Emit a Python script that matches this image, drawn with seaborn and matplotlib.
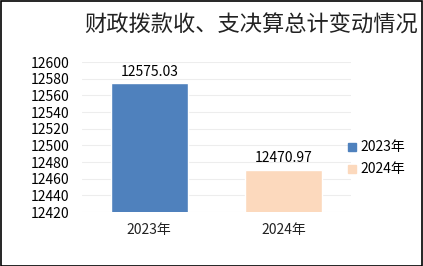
import matplotlib
matplotlib.use("Agg")
import matplotlib.pyplot as plt
import seaborn as sns
import pandas as pd
from matplotlib.patches import Rectangle

categories = ["2023年", "2024年"]
values = [12575.03, 12470.97]
colors = ["#4F81BD", "#FCD9BD"]
title = "财政拨款收、支决算总计变动情况"

sns.set_theme(style="white")
plt.rcParams['font.family'] = ['Noto Sans CJK SC', 'DejaVu Sans']

df = pd.DataFrame({"cat": categories, "val": values})

fig = plt.figure(figsize=(4.23, 2.66), dpi=100)
W, H = 423, 266
ax = fig.add_axes([82 / W, 1 - 212 / H, (351 - 82) / W, (212 - 62) / H])

sns.barplot(data=df, x="cat", y="val", hue="cat", palette=colors,
            width=0.57, ax=ax, legend=False, saturation=1)

ax.set_ylim(12420, 12600)
ax.set_yticks(range(12420, 12601, 20))
ax.set_xlim(-0.5, 1.5)
ax.yaxis.grid(True, color="#EDEDED", linewidth=0.8)
ax.set_axisbelow(True)
for s in ax.spines.values():
    s.set_visible(False)
ax.set_xlabel("")
ax.set_ylabel("")
ax.tick_params(axis="y", labelsize=10, pad=9, length=0, colors="black")
ax.tick_params(axis="x", labelsize=10, pad=8, length=0, colors="#222222")

for i, v in enumerate(values):
    ax.text(i, v + 5, f"{v:.2f}", ha="center", va="bottom", fontsize=10, color="black")

fig.text(251 / W, 1 - 25 / H, title, ha="center", va="center", fontsize=16, color="#222222")

# legend
for j, (c, lab) in enumerate(zip(colors, categories)):
    y = 1 - (147 + 22 * j) / H
    fig.patches.append(Rectangle((348 / W, y - 4 / H), 8 / W, 8 / H,
                                 transform=fig.transFigure, color=c))
    fig.text(360 / W, y, lab, ha="left", va="center", fontsize=10, color="black")

fig.patches.append(Rectangle((0.5 / W, 0.5 / H), 1 - 1.5 / W, 1 - 1.5 / H, transform=fig.transFigure,
                             fill=False, edgecolor="black", linewidth=1.2))

fig.savefig("out.png", dpi=100)
